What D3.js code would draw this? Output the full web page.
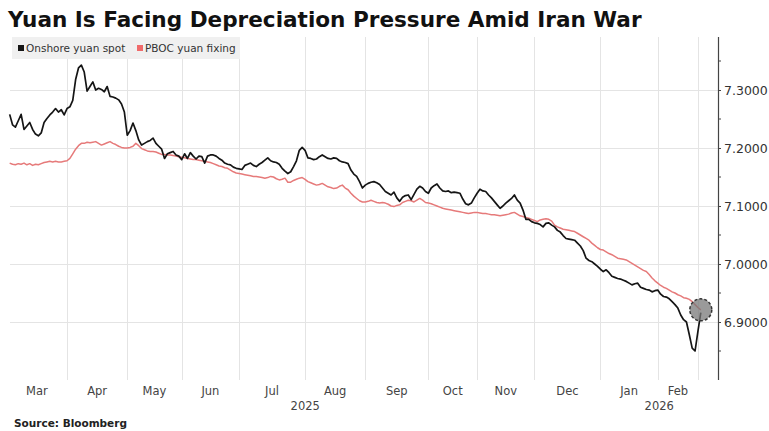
<!DOCTYPE html>
<html>
<head>
<meta charset="utf-8">
<script src="https://cdn.jsdelivr.net/npm/d3@7"></script>
<style>
  html, body { margin: 0; padding: 0; background: #fff; }
  svg { display: block; }
</style>
</head>
<body>
<svg id="chart" width="769" height="431"></svg>
<script>
// Months on the axis and how many onshore trading days each one holds
const months = ["Mar", "Apr", "May", "Jun", "Jul", "Aug", "Sep", "Oct", "Nov", "Dec", "Jan", "Feb", "Mar"];
const monthYears = [2025, 2025, 2025, 2025, 2025, 2025, 2025, 2025, 2025, 2025, 2026, 2026, 2026];
const tradingDays = [21, 21, 19, 20, 23, 21, 22, 17, 20, 23, 20, 14, 2];
const yearLabels = ["2025", "2026"];
const yTicks = [6.9, 7.0, 7.1, 7.2, 7.3];
const yMinorTicks = [6.85, 6.95, 7.05, 7.15, 7.25, 7.35];
const seriesNames = ["Onshore yuan spot", "PBOC yuan fixing"];
const firstDay = 1; // series begins on the second trading day of March 2025

// USD/CNY onshore spot, one value per trading day
const spot = [
  7.258, 7.240, 7.236, 7.247, 7.258, 7.232, 7.238, 7.244, 7.232, 7.224,
  7.221, 7.226, 7.244, 7.251, 7.257, 7.262, 7.268, 7.262, 7.266, 7.257,
  7.268, 7.271, 7.282, 7.318, 7.338, 7.343, 7.331, 7.298, 7.306, 7.314,
  7.300, 7.303, 7.301, 7.297, 7.306, 7.289, 7.288, 7.286, 7.283, 7.276, 7.262,
  7.222, 7.230, 7.243, 7.230, 7.214, 7.205, 7.208, 7.211, 7.213, 7.217,
  7.208, 7.203, 7.198, 7.182, 7.190, 7.192, 7.194, 7.188, 7.186,
  7.180, 7.190, 7.182, 7.192, 7.186, 7.181, 7.186, 7.185, 7.174, 7.186,
  7.188, 7.188, 7.186, 7.182, 7.179, 7.174, 7.172, 7.171, 7.167, 7.165,
  7.164, 7.163, 7.170, 7.172, 7.174, 7.170, 7.168, 7.172, 7.175, 7.179,
  7.183, 7.178, 7.176, 7.175, 7.172, 7.165, 7.160, 7.156, 7.159, 7.168,
  7.178, 7.196, 7.201,
  7.196, 7.183, 7.182, 7.180, 7.181, 7.185, 7.188, 7.185, 7.182, 7.181,
  7.183, 7.182, 7.178, 7.176, 7.175, 7.173, 7.162, 7.155, 7.151, 7.142, 7.131,
  7.136, 7.139, 7.141, 7.142, 7.140, 7.137, 7.131, 7.125, 7.122, 7.119,
  7.124, 7.114, 7.108, 7.115, 7.118, 7.119, 7.111, 7.120, 7.129, 7.134,
  7.131, 7.125,
  7.122, 7.131, 7.135, 7.138, 7.131, 7.126, 7.125, 7.126, 7.123, 7.124,
  7.123, 7.122, 7.112, 7.104, 7.102, 7.105, 7.114,
  7.122, 7.129, 7.126, 7.125, 7.119, 7.114, 7.108, 7.102, 7.096, 7.100,
  7.105, 7.109, 7.113, 7.119, 7.110, 7.105, 7.093, 7.077, 7.077, 7.073,
  7.071, 7.070, 7.068, 7.064, 7.070, 7.071, 7.067, 7.064, 7.058, 7.055,
  7.049, 7.044, 7.043, 7.042, 7.041, 7.036, 7.031, 7.023, 7.010, 7.006,
  7.004, 7.000, 6.996,
  6.991, 6.987, 6.990, 6.985, 6.979, 6.977, 6.975, 6.974, 6.972, 6.970,
  6.967, 6.964, 6.966, 6.967, 6.960, 6.958, 6.956, 6.955, 6.952, 6.954,
  6.955, 6.948, 6.944, 6.943, 6.940, 6.935, 6.930, 6.924, 6.912, 6.904,
  6.900, 6.878, 6.855, 6.850,
  6.884, 6.916
];

// PBOC daily reference rate, one value per trading day
const fixing = [
  7.174, 7.172, 7.171, 7.173, 7.172, 7.174, 7.171, 7.173, 7.170, 7.172,
  7.171, 7.173, 7.175, 7.176, 7.177, 7.176, 7.177, 7.176, 7.176, 7.177,
  7.178, 7.182, 7.190, 7.198, 7.204, 7.208, 7.208, 7.210, 7.209, 7.210,
  7.211, 7.208, 7.205, 7.207, 7.209, 7.211, 7.208, 7.206, 7.203, 7.201, 7.200,
  7.200, 7.201, 7.203, 7.208, 7.204, 7.199, 7.197, 7.195, 7.194, 7.194,
  7.193, 7.191, 7.189, 7.189, 7.188, 7.188, 7.187, 7.186, 7.185,
  7.184, 7.183, 7.182, 7.181, 7.180, 7.180, 7.179, 7.178, 7.177, 7.176,
  7.175, 7.173, 7.171, 7.169, 7.168, 7.166, 7.165, 7.162, 7.159, 7.157,
  7.156, 7.155, 7.154, 7.153, 7.152, 7.151, 7.151, 7.150, 7.149, 7.148,
  7.149, 7.151, 7.150, 7.147, 7.145, 7.146, 7.148, 7.141, 7.141, 7.144,
  7.146, 7.148, 7.149,
  7.146, 7.142, 7.140, 7.138, 7.136, 7.137, 7.139, 7.136, 7.133, 7.132,
  7.130, 7.131, 7.134, 7.136, 7.131, 7.128, 7.122, 7.117, 7.113, 7.109, 7.107,
  7.107, 7.108, 7.110, 7.108, 7.106, 7.105, 7.106, 7.105, 7.103, 7.100,
  7.099, 7.101, 7.102, 7.106, 7.108, 7.110, 7.109, 7.107, 7.110, 7.113,
  7.110, 7.106,
  7.105, 7.104, 7.102, 7.100, 7.098, 7.096, 7.095, 7.094, 7.093, 7.092,
  7.091, 7.090, 7.089, 7.088, 7.087, 7.088, 7.089,
  7.089, 7.088, 7.087, 7.087, 7.086, 7.085, 7.085, 7.084, 7.083, 7.084,
  7.085, 7.086, 7.088, 7.089, 7.086, 7.083, 7.082, 7.080, 7.079, 7.077,
  7.075, 7.073, 7.076, 7.077, 7.078, 7.077, 7.074, 7.067, 7.064, 7.062,
  7.060, 7.059, 7.058, 7.057, 7.056, 7.053, 7.050, 7.047, 7.044, 7.041,
  7.036, 7.032, 7.028,
  7.025, 7.024, 7.021, 7.018, 7.016, 7.013, 7.010, 7.009, 7.008, 7.007,
  7.004, 7.001, 6.998, 6.995, 6.992, 6.989, 6.987, 6.982, 6.976, 6.971,
  6.967, 6.963, 6.960, 6.958, 6.955, 6.952, 6.950, 6.947, 6.945, 6.942,
  6.941, 6.939, 6.935, 6.930,
  6.925, 6.921
];

const colors = { spot: "#151515", fixing: "#e67a7a", fixingKey: "#f06a6a" };

const svg = d3.select("#chart");
const W = 769, H = 431;
const plot = { left: 10, right: 718, top: 37, bottom: 380 };

// Trading-day index scale
const x = d3.scaleLinear().domain([0, 248]).range([6.8, plot.right]);
const y = d3.scaleLinear().domain([6.8, 7.3]).range([plot.bottom, 90]);

// Month boundaries (trading-day index of each month's first session)
const monthStarts = d3.cumsum([0, ...tradingDays]).slice(0, months.length + 1);

// Gridlines
const grid = svg.append("g").attr("stroke", "#e4e4e4").attr("stroke-width", 1);
grid.selectAll("line.h").data(yTicks).join("line")
  .attr("x1", plot.left).attr("x2", plot.right)
  .attr("y1", d => Math.round(y(d)) + 0.5).attr("y2", d => Math.round(y(d)) + 0.5);
grid.selectAll("line.v").data(monthStarts.slice(1, months.length)).join("line")
  .attr("x1", d => Math.round(x(d)) + 0.5).attr("x2", d => Math.round(x(d)) + 0.5)
  .attr("y1", plot.top).attr("y2", plot.bottom);

// Title
const title = svg.append("text")
  .attr("x", 8).attr("y", 27)
  .attr("font-family", "DejaVu Sans, Verdana, sans-serif")
  .attr("font-weight", "bold").attr("font-size", 20).attr("fill", "#111")
  .text("Yuan Is Facing Depreciation Pressure Amid Iran War");
const tw = title.node().getComputedTextLength();
title.attr("font-size", 20 * 634 / tw);

// Legend
const legend = svg.append("g");
legend.append("rect").attr("x", 12).attr("y", 37).attr("width", 228).attr("height", 22).attr("fill", "#f0f0f0");
const keyX = [18, 137];
const keyColors = [colors.spot, colors.fixingKey];
seriesNames.forEach((name, i) => {
  legend.append("rect").attr("x", keyX[i]).attr("y", 45).attr("width", 6).attr("height", 6).attr("fill", keyColors[i]);
  legend.append("text").attr("x", keyX[i] + 8).attr("y", 52)
    .attr("font-family", "DejaVu Sans, sans-serif").attr("font-size", 10.5).attr("fill", "#333")
    .text(name);
});

// Lines
const line = d3.line().x((d, i) => x(i + firstDay)).y(d => y(d));
svg.append("path").datum(fixing).attr("fill", "none").attr("stroke", colors.fixing)
  .attr("stroke-width", 1.5).attr("stroke-linejoin", "round").attr("d", line);
svg.append("path").datum(spot).attr("fill", "none").attr("stroke", colors.spot)
  .attr("stroke-width", 1.7).attr("stroke-linejoin", "round").attr("d", line);

// Highlight on the latest fixing
const lastI = fixing.length - 1;
svg.append("circle")
  .attr("cx", x(lastI + firstDay)).attr("cy", y(fixing[lastI])).attr("r", 11)
  .attr("fill", "rgba(120,120,120,0.75)").attr("stroke", "#333")
  .attr("stroke-width", 1.5).attr("stroke-dasharray", "3,2");

// Right axis
const axisG = svg.append("g").attr("transform", `translate(${plot.right},0)`);
axisG.call(d3.axisRight(y).tickValues(yTicks).tickFormat(d3.format(".4f")).tickSize(3).tickPadding(3).tickSizeOuter(0));
axisG.select(".domain").remove();
axisG.selectAll(".tick line").attr("stroke", "#444");
axisG.selectAll(".tick text").attr("font-family", "DejaVu Sans, sans-serif").attr("font-size", 12.5).attr("fill", "#333");
axisG.append("line").attr("x1", 0.5).attr("x2", 0.5).attr("y1", plot.top).attr("y2", plot.bottom).attr("stroke", "#444").attr("stroke-width", 1.2);
axisG.selectAll("line.minor").data(yMinorTicks).join("line").attr("class", "minor")
  .attr("x1", 0).attr("x2", 3).attr("y1", d => y(d)).attr("y2", d => y(d)).attr("stroke", "#444");

// Month labels, centred on each month
const labelFont = "DejaVu Sans, sans-serif";
svg.append("g").selectAll("text").data(months.slice(0, 12)).join("text")
  .attr("x", (d, i) => (x(monthStarts[i]) + x(monthStarts[i + 1])) / 2)
  .attr("y", 395).attr("text-anchor", "middle")
  .attr("font-family", labelFont).attr("font-size", 11.5).attr("fill", "#444")
  .text(d => d);

// Year labels, centred on the visible span of each year
const yearSpans = yearLabels.map(yr => {
  const idx = monthYears.map((v, i) => v === +yr ? i : -1).filter(i => i >= 0);
  const a = Math.max(x(monthStarts[idx[0]]), plot.left);
  const b = idx[idx.length - 1] === months.length - 1 ? plot.right : x(monthStarts[idx[idx.length - 1] + 1]);
  return (a + b) / 2;
});
svg.append("g").selectAll("text").data(yearLabels).join("text")
  .attr("x", (d, i) => yearSpans[i]).attr("y", 410).attr("text-anchor", "middle")
  .attr("font-family", labelFont).attr("font-size", 11.5).attr("fill", "#444")
  .text(d => d);

// Source
svg.append("text").attr("x", 14).attr("y", 427)
  .attr("font-family", "DejaVu Sans, sans-serif").attr("font-weight", "bold")
  .attr("font-size", 10.5).attr("fill", "#222")
  .text("Source: Bloomberg");
</script>
</body>
</html>
